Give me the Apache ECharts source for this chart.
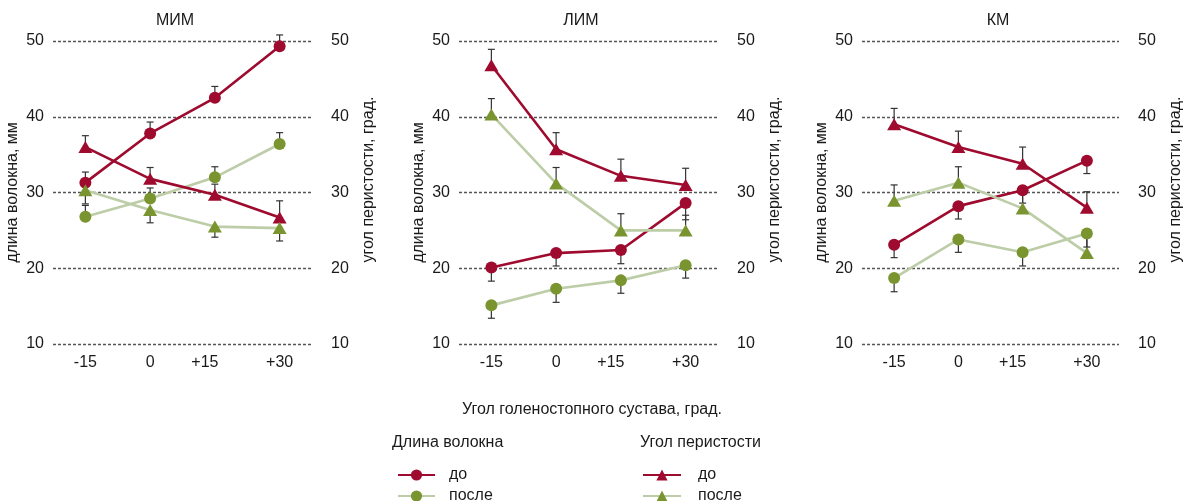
<!DOCTYPE html>
<html>
<head>
<meta charset="utf-8">
<script src="https://cdn.jsdelivr.net/npm/echarts@6/dist/echarts.min.js"></script>
<style>
  html, body { margin: 0; padding: 0; background: #fff; }
  #chart { width: 1185px; height: 501px; }
</style>
</head>
<body>
<div id="chart"></div>
<script>
// категории и подписи
const categories = ['-15', '0', '+15', '+30'];
const panels = ['МИМ', 'ЛИМ', 'КМ'];

// длина волокна, мм (по панелям МИМ, ЛИМ, КМ)
const fiberBefore = [[31.3, 37.8, 42.5, 49.3], [20.1, 22.0, 22.4, 28.6], [23.1, 28.2, 30.3, 34.2]];
const fiberBeforeErr = [[32.7, 39.3, 44.0, 50.8], [18.3, 20.3, 20.6, 26.4], [21.4, 26.5, 28.6, 32.5]];
const fiberAfter = [[26.8, 29.2, 32.0, 36.4], [15.1, 17.3, 18.4, 20.4], [18.7, 23.8, 22.1, 24.6]];
const fiberAfterErr = [[28.3, 30.6, 33.4, 37.9], [13.4, 15.5, 16.7, 18.7], [16.9, 22.1, 20.3, 22.8]];

// угол перистости, град.
const angleBefore = [[36.0, 31.8, 29.7, 26.7], [46.8, 35.7, 32.2, 31.0], [39.0, 36.0, 33.8, 28.0]];
const angleBeforeErr = [[37.5, 33.3, 31.1, 28.9], [48.9, 37.9, 34.4, 33.2], [41.1, 38.1, 36.0, 30.1]];
const angleAfter = [[30.3, 27.7, 25.5, 25.3], [40.3, 31.2, 25.0, 25.0], [28.9, 31.3, 27.9, 22.0]];
const angleAfterErr = [[28.5, 26.0, 24.1, 23.6], [42.4, 33.3, 27.2, 27.0], [31.0, 33.4, 30.0, 24.1]];

const RED = '#9e0b2f';
const GREEN_MARK = '#7a9530';
const GREEN_LINE = '#bccda7';
const FONT = 'Liberation Sans';
const TXT = '#1a1a1a';

const gridLeft = [53, 459, 862];
const titleX = [175, 581, 998];

const legendNames = { fiberBefore: 'до', fiberAfter: 'после', angleBefore: 'до', angleAfter: 'после' };

function errRender(params, api) {
  const p0 = api.coord([api.value(0), api.value(1)]);
  const p1 = api.coord([api.value(0), api.value(2)]);
  const st = { stroke: '#333', lineWidth: 1.2 };
  return {
    type: 'group',
    children: [
      { type: 'line', shape: { x1: p0[0], y1: p0[1], x2: p1[0], y2: p1[1] }, style: st },
      { type: 'line', shape: { x1: p1[0] - 3.5, y1: p1[1], x2: p1[0] + 3.5, y2: p1[1] }, style: st }
    ]
  };
}

const grids = [], xAxes = [], yAxes = [], series = [];
panels.forEach((p, i) => {
  grids.push({ left: gridLeft[i], width: 259, top: 41, height: 303 });
  xAxes.push({
    type: 'category', gridIndex: i, data: categories, boundaryGap: true,
    axisLine: { show: false }, axisTick: { show: false },
    axisLabel: {
      interval: 0, hideOverlap: false,
      margin: 11, fontSize: 16, fontFamily: FONT, color: TXT,
      formatter: v => v === '+15' ? '{s|' + v + '}' : v,
      rich: { s: { padding: [0, 20, 0, 0], fontSize: 16, fontFamily: FONT, color: TXT } }
    }
  });
  const yBase = {
    type: 'value', gridIndex: i, min: 10, max: 50, interval: 10,
    axisLine: { show: false }, axisTick: { show: false },
    nameLocation: 'middle'
  };
  yAxes.push(Object.assign({}, yBase, {
    position: 'left', name: 'длина волокна, мм', nameGap: 32,
    nameTextStyle: { fontSize: 16, fontFamily: FONT, color: TXT },
    axisLabel: { margin: 9, fontSize: 16, fontFamily: FONT, color: TXT },
    splitLine: { show: true, lineStyle: { type: [3, 2], color: '#555', width: 1.4 } }
  }));
  yAxes.push(Object.assign({}, yBase, {
    position: 'right', name: 'угол перистости, град.', nameGap: 49, nameRotate: 90,
    nameTextStyle: { fontSize: 16, fontFamily: FONT, color: TXT, padding: [0, 0, 0, 26] },
    axisLabel: { margin: 19, fontSize: 16, fontFamily: FONT, color: TXT },
    splitLine: { show: false }
  }));

  const defs = [
    { name: 'fiberBefore', vals: fiberBefore[i], err: fiberBeforeErr[i], y: 2 * i, sym: 'circle', size: 12, line: RED, mark: RED },
    { name: 'fiberAfter', vals: fiberAfter[i], err: fiberAfterErr[i], y: 2 * i, sym: 'circle', size: 12, line: GREEN_LINE, mark: GREEN_MARK },
    { name: 'angleBefore', vals: angleBefore[i], err: angleBeforeErr[i], y: 2 * i + 1, sym: 'triangle', size: [14, 12], line: RED, mark: RED },
    { name: 'angleAfter', vals: angleAfter[i], err: angleAfterErr[i], y: 2 * i + 1, sym: 'triangle', size: [14, 12], line: GREEN_LINE, mark: GREEN_MARK }
  ];
  defs.forEach(d => {
    series.push({
      type: 'custom', xAxisIndex: i, yAxisIndex: d.y, z: 1, silent: true,
      renderItem: errRender,
      encode: { x: 0, y: [1, 2] },
      data: d.vals.map((v, k) => [k, v, d.err[k]])
    });
  });
  defs.forEach(d => {
    series.push({
      name: d.name, type: 'line', xAxisIndex: i, yAxisIndex: d.y, z: 3,
      data: d.vals, symbol: d.sym, symbolSize: d.size, showSymbol: true,
      lineStyle: { color: d.line, width: 2.6 },
      itemStyle: { color: d.mark, borderWidth: 0 }
    });
  });
});

const plainText = { fontSize: 16, fontWeight: 'normal', fontFamily: FONT, color: TXT };
const legendText = { fontSize: 16, fontFamily: FONT, color: TXT, lineHeight: 14 };
const option = {
  animation: false,
  backgroundColor: '#fff',
  title: panels.map((p, i) => ({
    text: p, left: titleX[i], top: 13, textAlign: 'center', padding: 0, textStyle: plainText
  })).concat([
    { text: 'Угол голеностопного сустава, град.', left: 592, top: 402, textAlign: 'center', padding: 0, textStyle: plainText },
    { text: 'Длина волокна', left: 392, top: 435, padding: 0, textStyle: plainText },
    { text: 'Угол перистости', left: 640, top: 435, padding: 0, textStyle: plainText }
  ]),
  legend: [
    { data: ['fiberBefore', 'fiberAfter'], orient: 'vertical', left: 397, top: 467, height: 60, padding: 0,
      itemWidth: 37, itemHeight: 14, itemGap: 5, formatter: n => legendNames[n],
      textStyle: Object.assign({ padding: [0, 0, 0, 9] }, legendText) },
    { data: ['angleBefore', 'angleAfter'], orient: 'vertical', left: 642, top: 467, height: 60, padding: 0,
      itemWidth: 38, itemHeight: 14, itemGap: 5, formatter: n => legendNames[n],
      textStyle: Object.assign({ padding: [0, 0, 0, 12] }, legendText) }
  ],
  grid: grids,
  xAxis: xAxes,
  yAxis: yAxes,
  series: series
};

const chart = echarts.init(document.getElementById('chart'));
chart.setOption(option);
</script>
</body>
</html>
